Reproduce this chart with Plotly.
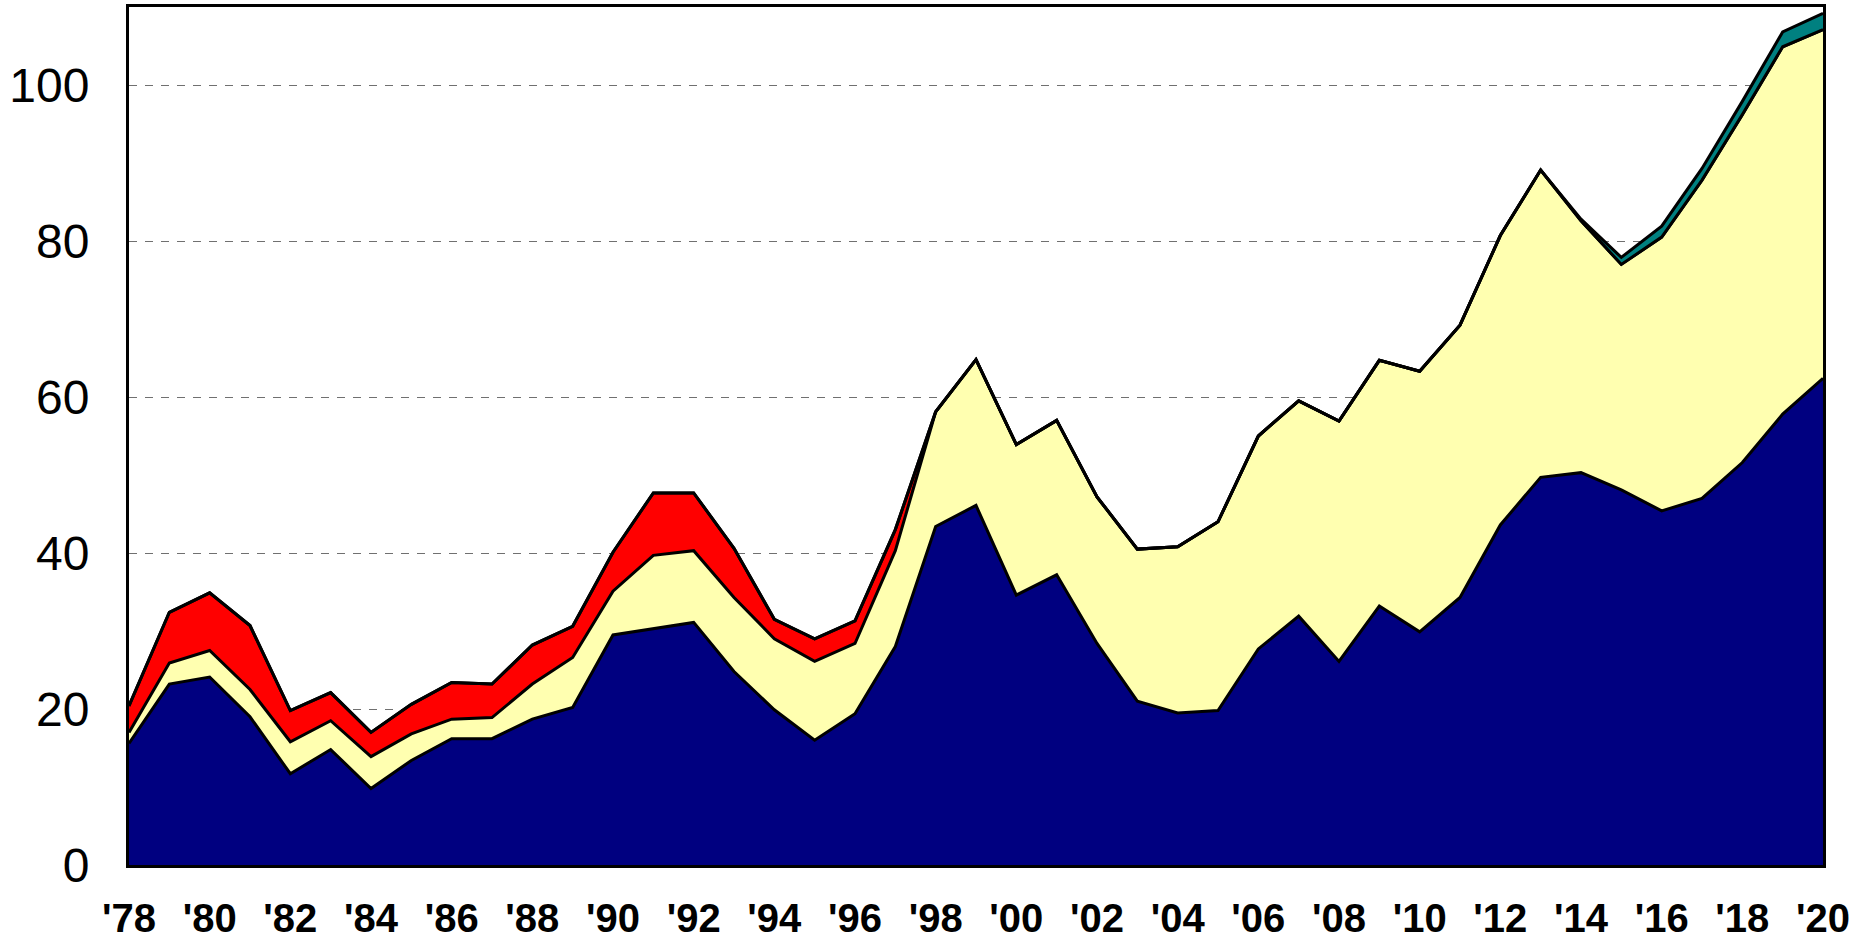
import plotly.graph_objects as go

years = list(range(1978, 2021))

navy_vals = [15.6, 23.2, 24.1, 19.0, 11.7, 14.8, 9.8, 13.4, 16.2, 16.2,
             18.7, 20.2, 29.5, 30.3, 31.1, 24.8, 19.9, 16.0, 19.4, 28.0,
             43.4, 46.1, 34.6, 37.2, 28.4, 21.0, 19.5, 19.8, 27.7, 31.9,
             26.1, 33.2, 29.9, 34.3, 43.6, 49.7, 50.3, 48.1, 45.4, 47.0,
             51.6, 57.8, 62.4]

yellow_vals = [1.4, 2.7, 3.4, 3.5, 4.1, 3.7, 4.1, 3.4, 2.5, 2.7,
               4.5, 6.4, 5.6, 9.4, 9.2, 9.5, 9.1, 10.1, 9.0, 12.3,
               14.7, 18.7, 19.3, 19.8, 18.8, 19.5, 21.3, 24.2, 27.3, 27.6,
               30.8, 31.5, 33.4, 34.9, 37.1, 39.4, 32.3, 28.9, 35.1, 40.8,
               44.6, 47.1, 44.7]

red_vals = [3.4, 6.5, 7.4, 8.2, 4.0, 3.6, 3.1, 3.8, 4.7, 4.3,
            5.0, 4.0, 5.0, 8.0, 7.4, 6.3, 2.5, 2.9, 2.9, 2.7,
            0.0, 0.0, 0.0, 0.0, 0.0, 0.0, 0.0, 0.0, 0.0, 0.0,
            0.0, 0.0, 0.0, 0.0, 0.0, 0.0, 0.0, 0.0, 0.0, 0.0,
            0.0, 0.0, 0.0]

teal_vals = [0.0, 0.0, 0.0, 0.0, 0.0, 0.0, 0.0, 0.0, 0.0, 0.0,
             0.0, 0.0, 0.0, 0.0, 0.0, 0.0, 0.0, 0.0, 0.0, 0.0,
             0.0, 0.0, 0.0, 0.0, 0.0, 0.0, 0.0, 0.0, 0.0, 0.0,
             0.0, 0.0, 0.0, 0.0, 0.0, 0.0, 0.2, 0.9, 1.4, 1.5,
             1.7, 1.9, 2.1]

x_tick_years = list(range(1978, 2021, 2))
x_tick_labels = ["'78", "'80", "'82", "'84", "'86", "'88", "'90", "'92", "'94",
                 "'96", "'98", "'00", "'02", "'04", "'06", "'08", "'10", "'12",
                 "'14", "'16", "'18", "'20"]
y_tick_vals = [0, 20, 40, 60, 80, 100]
y_tick_labels = ["0", "20", "40", "60", "80", "100"]

series = [
    ("Navy", navy_vals, "#000080"),
    ("Yellow", yellow_vals, "#FFFFB0"),
    ("Red", red_vals, "#FF0000"),
    ("Teal", teal_vals, "#008080"),
]

fig = go.Figure()
for name, vals, color in series:
    fig.add_trace(go.Scatter(
        x=years, y=vals, name=name, mode="lines",
        stackgroup="one", fillcolor=color,
        line=dict(color="black", width=3),
        hoverinfo="x+y+name",
    ))

fig.update_layout(
    width=1872, height=939,
    margin=dict(l=129, r=49, t=7, b=74),
    paper_bgcolor="white", plot_bgcolor="white",
    showlegend=False,
    font=dict(family="Liberation Sans, Arial, sans-serif", color="black"),
)
fig.update_xaxes(
    range=[1978, 2020], automargin=False,
    tickvals=x_tick_years, ticktext=x_tick_labels,
    tickfont=dict(size=40, weight="bold", color="black"),
    showgrid=False, zeroline=False,
    showline=True, linecolor="black", linewidth=3, mirror=True,
    ticks="", ticklabelstandoff=16,
)
fig.update_yaxes(
    range=[0, 110], automargin=False,
    tickvals=y_tick_vals, ticktext=y_tick_labels,
    tickfont=dict(size=48, color="black"),
    showgrid=True, gridcolor="#707070", gridwidth=1, griddash="8px,8px",
    zeroline=False,
    showline=True, linecolor="black", linewidth=3, mirror=True,
    ticks="", ticklabelstandoff=27,
)

fig.write_html(
    "out.html",
    config={"displayModeBar": False},
    post_script="document.body.style.margin='0';document.body.style.overflow='hidden';",
)
